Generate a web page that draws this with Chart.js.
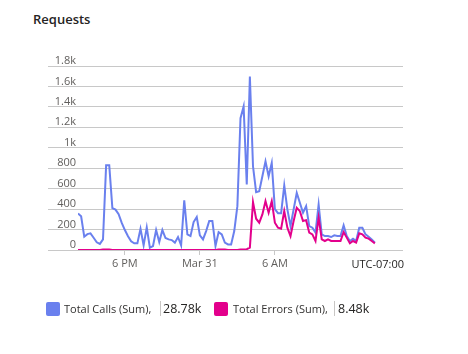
<!DOCTYPE html>
<html>
<head>
<meta charset="utf-8">
<script src="https://cdn.jsdelivr.net/npm/chart.js@4.4.0/dist/chart.umd.min.js"></script>
<style>
  html, body { margin: 0; padding: 0; background: #fff; }
  body { width: 468px; height: 354px; position: relative; overflow: hidden; font-family: "Open Sans", sans-serif; }
  #title { position: absolute; left: 33px; top: 10px; font-size: 13px; font-weight: 600; color: #252423; }
  #wrap { position: absolute; left: 0; top: 0; width: 468px; height: 300px; }
  .sw { position: absolute; top: 302px; width: 14px; height: 14px; border-radius: 2px; }
  .txt { position: absolute; top: 300px; font-size: 11px; line-height: 18px; color: #323130; white-space: nowrap; }
  .sep { position: absolute; top: 301px; width: 1px; height: 15px; background: #c8c6c4; }
  .val { position: absolute; top: 299px; font-size: 12.5px; line-height: 20px; color: #252423; white-space: nowrap; }
</style>
</head>
<body>
<div id="title">Requests</div>
<div id="wrap"><canvas id="myChart" width="468" height="300"></canvas></div>

<div class="sw" style="left:46px;background:#6a80ee"></div>
<div class="txt" style="left:64px">Total Calls (Sum),</div>
<div class="sep" style="left:160px"></div>
<div class="val" style="left:163px">28.78k</div>

<div class="sw" style="left:214px;background:#e3008c"></div>
<div class="txt" style="left:233px">Total Errors (Sum),</div>
<div class="sep" style="left:334px"></div>
<div class="val" style="left:338px">8.48k</div>

<script>
// 15 minute buckets, first one at 14:15
const totalCalls = [
    358, 330, 130, 155, 163, 120, 75, 60, 104, 828,
    828, 410, 395, 350, 265, 195, 135, 85, 65, 65,
    208, 46, 221, 23, 39, 195, 78, 195, 117, 104,
    97, 72, 127, 46, 487, 153, 136, 273, 322, 143,
    104, 185, 283, 283, 39, 175, 153, 72, 55, 55,
    185, 429, 1290, 1404, 640, 1696, 819, 565, 575, 721,
    867, 721, 852, 400, 360, 360, 631, 397, 234, 397,
    559, 462, 365, 429, 234, 218, 170, 445, 153, 136,
    136, 127, 143, 136, 136, 241, 136, 88, 111, 88,
    218, 218, 153, 130, 104, 72
];
const totalErrors = [
    0, 0, 0, 0, 0, 0, 0, 0, 4, 6,
    4, 0, 0, 0, 0, 0, 0, 0, 0, 0,
    0, 0, 0, 0, 0, 0, 0, 0, 0, 0,
    0, 0, 0, 0, 0, 0, 0, 0, 0, 0,
    0, 0, 0, 0, 0, 4, 6, 4, 0, 0,
    0, 0, 5, 5, 8, 23, 468, 306, 267, 348,
    478, 365, 478, 267, 218, 208, 380, 218, 136, 283,
    413, 380, 283, 292, 170, 153, 88, 316, 104, 88,
    104, 88, 88, 88, 88, 175, 121, 65, 88, 72,
    163, 153, 121, 111, 88, 65
];
const xTickPos = [15, 39, 63];
const xTickLabels = ['6 PM', 'Mar 31', '6 AM'];
const xLastSlot = 104;
const zoneLabel = 'UTC-07:00';

const toPoints = arr => arr.map((v, i) => ({x: i, y: v}));

const zonePlugin = {
    id: 'zoneLabel',
    afterDraw(chart) {
        const xs = chart.scales.x;
        const ctx = chart.ctx;
        ctx.save();
        ctx.font = '11px "Open Sans", sans-serif';
        ctx.fillStyle = '#252423';
        ctx.textAlign = 'right';
        ctx.textBaseline = 'middle';
        ctx.fillText(zoneLabel, xs.right + 1, xs.top + 15);
        ctx.restore();
    }
};

const config = {
    type: 'line',
    data: {
        datasets: [{
            label: 'Total Calls (Sum)',
            data: toPoints(totalCalls),
            borderColor: '#6a80ee',
            order: 1
        }, {
            label: 'Total Errors (Sum)',
            data: toPoints(totalErrors),
            borderColor: '#e3008c',
            order: 0
        }]
    },
    plugins: [zonePlugin],
    options: {
        responsive: false,
        animation: false,
        layout: {
            padding: {left: 48, right: 65, top: 66, bottom: 28}
        },
        elements: {
            line: {borderWidth: 2, tension: 0},
            point: {radius: 0}
        },
        plugins: {
            legend: {display: false},
            tooltip: {enabled: false}
        },
        scales: {
            x: {
                type: 'linear',
                min: 0,
                max: xLastSlot,
                afterBuildTicks: s => { s.ticks = xTickPos.map(v => ({value: v})); },
                afterFit: s => { s.height = 22; },
                border: {display: false},
                grid: {drawOnChartArea: false, drawTicks: true, tickLength: 5, color: '#c8c8c8'},
                ticks: {
                    padding: 2,
                    maxRotation: 0,
                    color: '#605e5c',
                    font: {family: '"Open Sans", sans-serif', size: 11},
                    callback: v => xTickLabels[xTickPos.indexOf(v)]
                }
            },
            y: {
                min: 0,
                max: 1800,
                afterFit: s => { s.width = 30; },
                border: {display: false},
                grid: {color: '#c8c8c8', tickLength: 30, drawTicks: true},
                ticks: {
                    stepSize: 200,
                    padding: -28,
                    labelOffset: -5,
                    color: '#605e5c',
                    font: {family: '"Open Sans", sans-serif', size: 11},
                    callback: v => v >= 1000 ? (v / 1000) + 'k' : v
                }
            }
        }
    }
};

new Chart(document.getElementById('myChart').getContext('2d'), config);
</script>
</body>
</html>
